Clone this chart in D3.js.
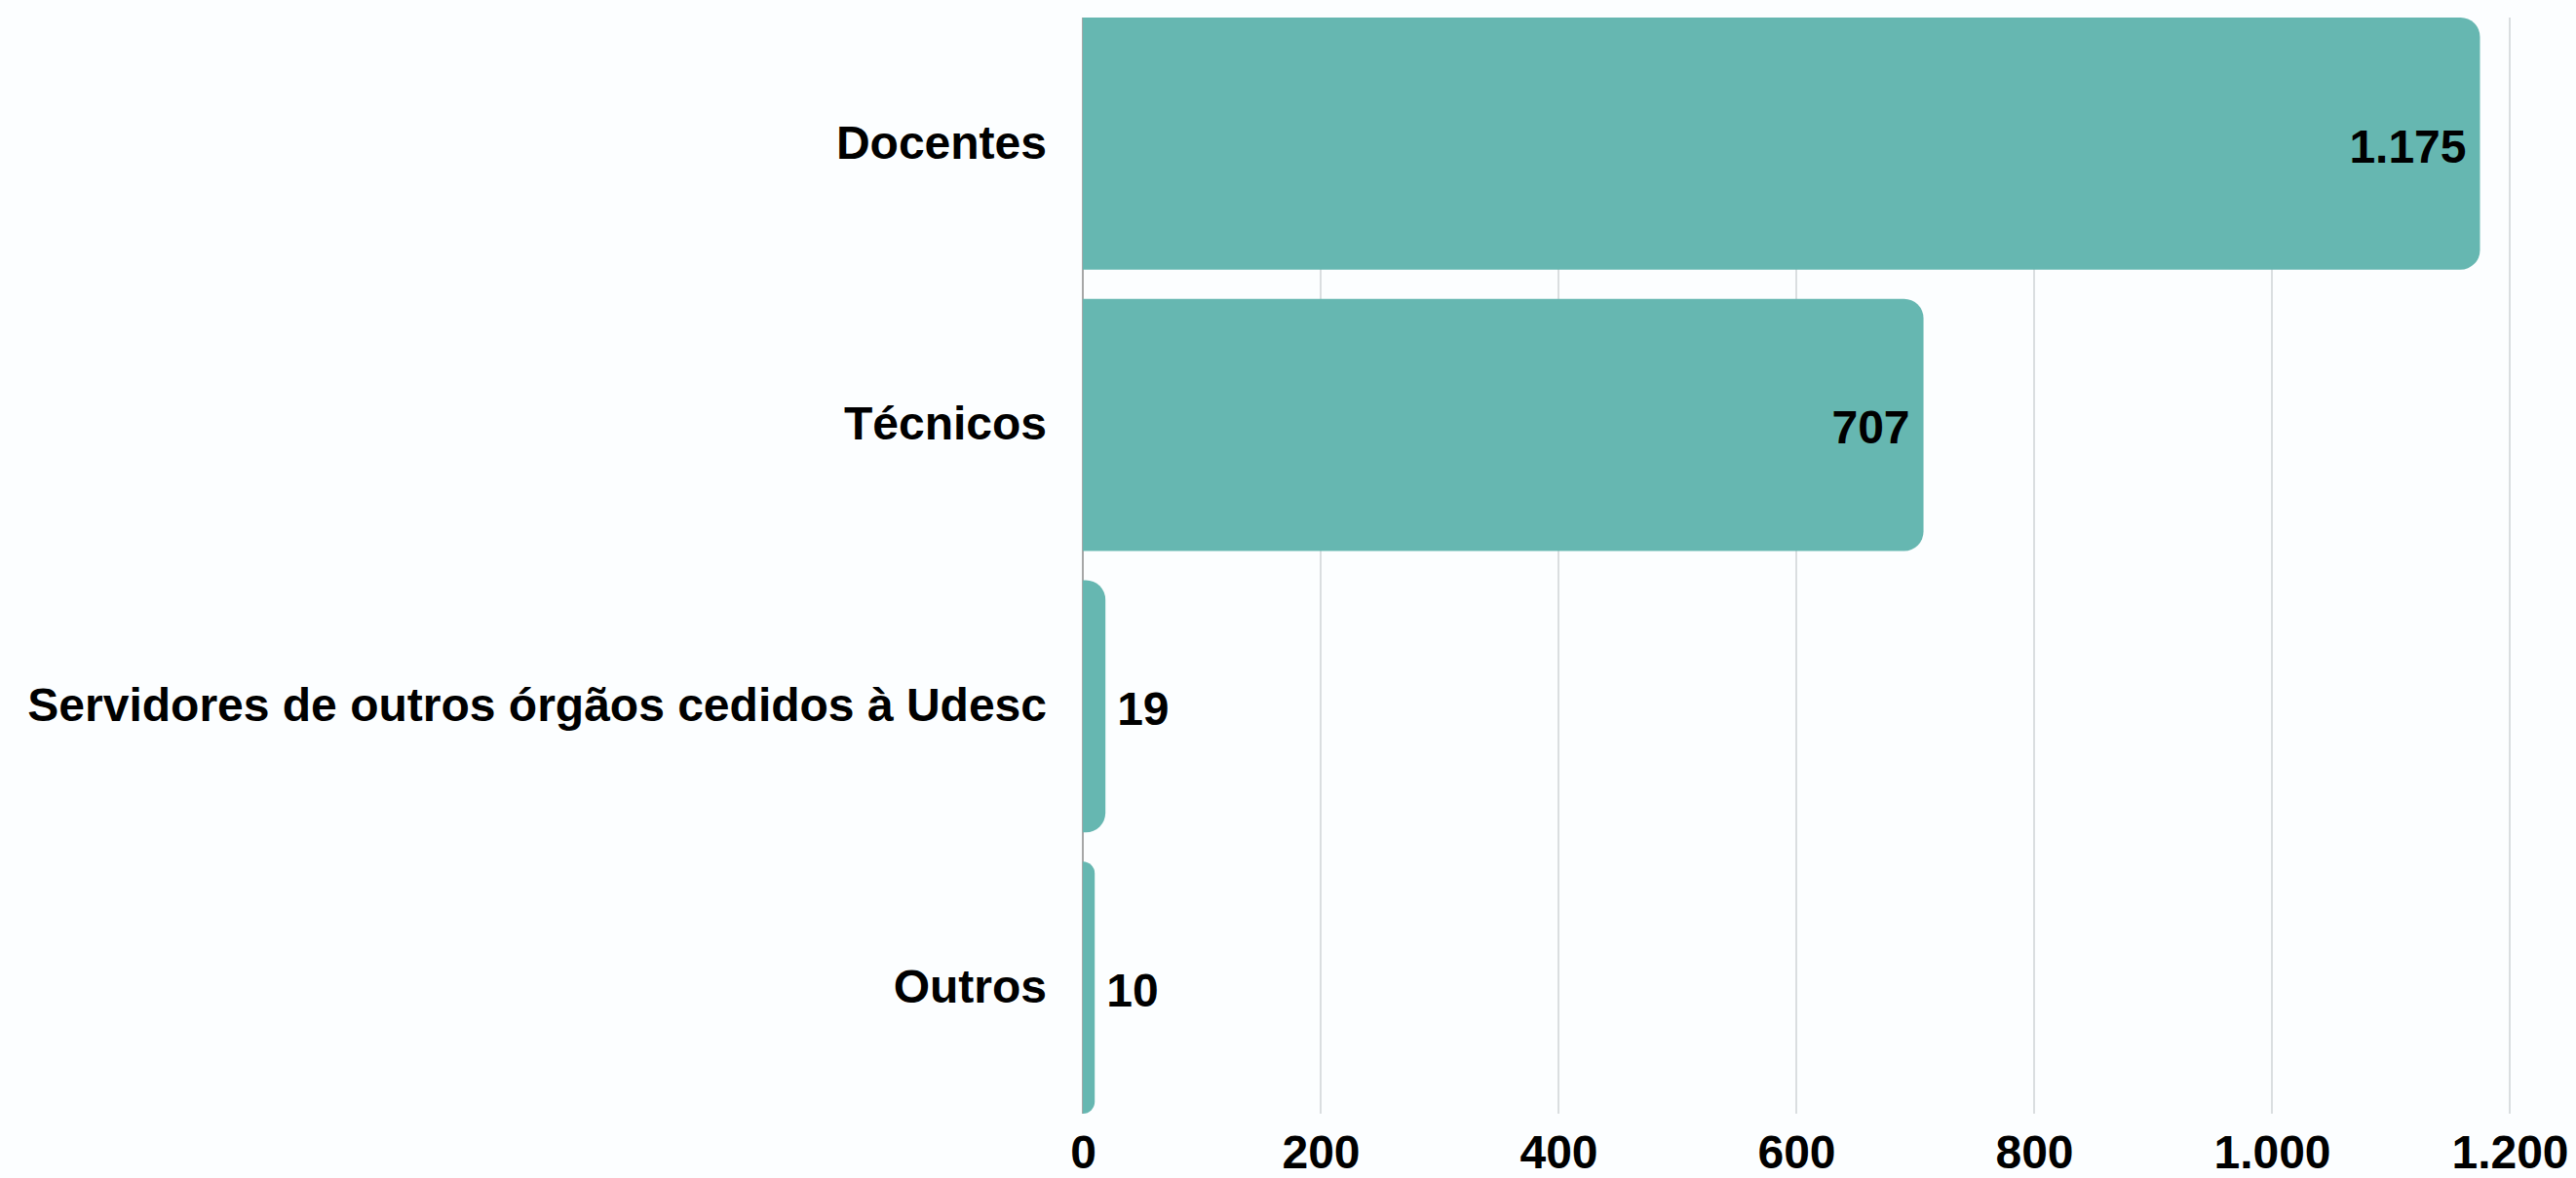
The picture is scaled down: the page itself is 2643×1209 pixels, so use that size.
<!DOCTYPE html>
<html>
<head>
<meta charset="utf-8">
<script src="https://cdn.jsdelivr.net/npm/d3@7"></script>
<style>
  body { margin: 0; background: #fcfeff; }
  svg text { font-family: "Liberation Sans", Arial, sans-serif; font-weight: bold; fill: #000; }
</style>
</head>
<body>
<div id="chart"></div>
<script>
var categories = ["Docentes", "Técnicos", "Servidores de outros órgãos cedidos à Udesc", "Outros"];
var values = [1175, 707, 19, 10];
var xTicks = [0, 200, 400, 600, 800, 1000, 1200];

var width = 2643, height = 1209;
var margin = {top: 18, right: 68, bottom: 66, left: 1111};

var fmt = function(v) { return d3.format(",")(v).replace(/,/g, "."); };

var svg = d3.select("#chart").append("svg")
    .attr("width", width)
    .attr("height", height);

svg.append("rect").attr("width", width).attr("height", height).attr("fill", "#fcfeff");

var x = d3.scaleLinear()
    .domain([0, 1200])
    .range([margin.left, width - margin.right]);

var y = d3.scaleBand()
    .domain(categories)
    .range([margin.top, height - margin.bottom])
    .paddingInner(0.104)
    .paddingOuter(0);

// gridlines
svg.append("g")
    .selectAll("line")
    .data(xTicks.slice(1))
    .join("line")
      .attr("x1", function(d) { return x(d); })
      .attr("x2", function(d) { return x(d); })
      .attr("y1", margin.top)
      .attr("y2", height - margin.bottom)
      .attr("stroke", "#cfd3d6")
      .attr("stroke-width", 1.5);

// zero line
svg.append("line")
    .attr("x1", x(0)).attr("x2", x(0))
    .attr("y1", margin.top).attr("y2", height - margin.bottom)
    .attr("stroke", "#8a8a8a")
    .attr("stroke-width", 1.5);

// bars with rounded right end
function barPath(d, i) {
  var x0 = x(0), x1 = x(values[i]), y0 = y(d), h = y.bandwidth();
  var r = Math.min(20, x1 - x0, h / 2);
  return "M" + x0 + "," + y0 +
    "H" + (x1 - r) +
    "A" + r + "," + r + " 0 0 1 " + x1 + "," + (y0 + r) +
    "V" + (y0 + h - r) +
    "A" + r + "," + r + " 0 0 1 " + (x1 - r) + "," + (y0 + h) +
    "H" + x0 + "Z";
}

svg.append("g")
    .selectAll("path")
    .data(categories)
    .join("path")
      .attr("d", barPath)
      .attr("fill", "#66b7b1");

// category labels
svg.append("g")
    .selectAll("text")
    .data(categories)
    .join("text")
      .attr("x", x(0) - 37)
      .attr("y", function(d) { return y(d) + y.bandwidth() / 2; })
      .attr("dy", "0.32em")
      .attr("text-anchor", "end")
      .style("font-size", "48px")
      .text(function(d) { return d; });

// value labels
svg.append("g")
    .selectAll("text")
    .data(categories)
    .join("text")
      .attr("x", function(d, i) {
        return values[i] > 100 ? x(values[i]) - 14 : x(values[i]) + 12;
      })
      .attr("y", function(d) { return y(d) + y.bandwidth() / 2; })
      .attr("dy", "0.4em")
      .attr("text-anchor", function(d, i) { return values[i] > 100 ? "end" : "start"; })
      .style("font-size", "48px")
      .text(function(d, i) { return fmt(values[i]); });

// x axis
var xAxis = d3.axisBottom(x)
    .tickValues(xTicks)
    .tickSize(0)
    .tickPadding(22)
    .tickFormat(fmt);

var gx = svg.append("g")
    .attr("transform", "translate(0," + (height - margin.bottom) + ")")
    .call(xAxis);
gx.select(".domain").remove();
gx.selectAll("text")
    .style("font-size", "48px")
    .attr("font-family", null);
</script>
</body>
</html>
